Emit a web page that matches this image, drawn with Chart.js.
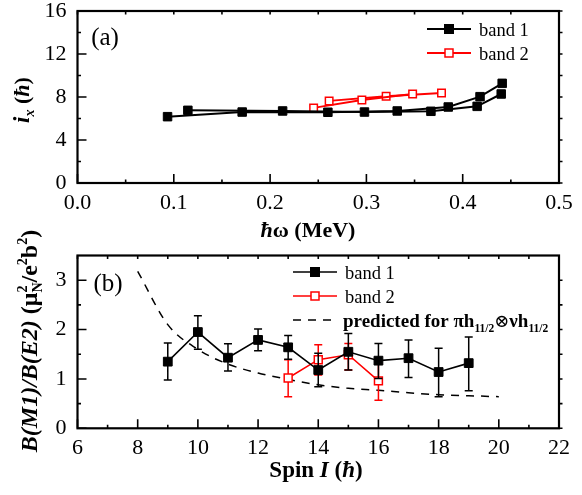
<!DOCTYPE html>
<html>
<head>
<meta charset="utf-8">
<script src="https://cdn.jsdelivr.net/npm/chart.js@4.4.0/dist/chart.umd.min.js"></script>
<style>
  html, body { margin: 0; padding: 0; background: #fff; }
  #wrap { position: relative; width: 582px; height: 495px; overflow: hidden; }
  #ca { position: absolute; left: 0; top: 0; }
  #cb { position: absolute; left: 0; top: 200px; }
</style>
</head>
<body>
<div id="wrap">
  <canvas id="ca" width="582" height="245"></canvas>
  <canvas id="cb" width="582" height="295"></canvas>
</div>
<script>
const SERIF = '"Liberation Serif", "Times New Roman", "DejaVu Serif", serif';

// ---- panel (a): aligned angular momentum i_x versus rotational frequency ----
// band 1, the two signature sequences
const omegaBand1a = [0.0935, 0.171, 0.260, 0.332, 0.385, 0.418, 0.441];
const ixBand1a    = [6.17, 6.60, 6.58, 6.70, 7.07, 8.03, 9.27];
const omegaBand1b = [0.1146, 0.213, 0.298, 0.367, 0.415, 0.440];
const ixBand1b    = [6.76, 6.70, 6.60, 6.67, 7.13, 8.28];
// band 2, the two signature sequences
const omegaBand2a = [0.2452, 0.2953, 0.348];
const ixBand2a    = [6.98, 7.72, 8.28];
const omegaBand2b = [0.2613, 0.3205, 0.378];
const ixBand2b    = [7.63, 8.07, 8.37];

const omegaTicks      = [0, 0.1, 0.2, 0.3, 0.4, 0.5];
const omegaTickLabels = ['0.0', '0.1', '0.2', '0.3', '0.4', '0.5'];
const ixTicks         = [0, 4, 8, 12, 16];
const ixTickLabels    = ['0', '4', '8', '12', '16'];

// ---- panel (b): B(M1)/B(E2) ratios versus spin ----
const spinBand1  = [9, 10, 11, 12, 13, 14, 15, 16, 17, 18, 19];
const ratioBand1 = [1.35, 1.95, 1.43, 1.79, 1.64, 1.18, 1.55, 1.37, 1.42, 1.14, 1.32];
const lowBand1   = [0.98, 1.60, 1.16, 1.57, 1.40, 0.84, 1.18, 1.01, 1.03, 0.64, 0.76];
const highBand1  = [1.73, 2.28, 1.71, 2.01, 1.88, 1.52, 1.92, 1.72, 1.79, 1.62, 1.85];

const spinBand2  = [13, 14, 15, 16];
const ratioBand2 = [1.02, 1.39, 1.49, 0.96];
const lowBand2   = [0.64, 1.08, 1.18, 0.57];
const highBand2  = [1.39, 1.69, 1.72, 1.32];

const spinPred   = [8, 9, 10, 11, 12, 13, 14, 15, 16, 17, 18, 19, 20];
const ratioPred  = [3.18, 2.10, 1.60, 1.30, 1.12, 0.99, 0.88, 0.81, 0.77, 0.72, 0.68, 0.66, 0.64];

const spinTicks      = [6, 8, 10, 12, 14, 16, 18, 20, 22];
const spinTickLabels = ['6', '8', '10', '12', '14', '16', '18', '20', '22'];
const ratioTicks      = [0, 1, 2, 3];
const ratioTickLabels = ['0', '1', '2', '3'];

const pts = (xs, ys) => xs.map((x, i) => ({ x, y: ys[i] }));

// ---- text helpers (sub/superscripts) ----
function richWidth(ctx, segs) {
  let w = 0, pending = 0;
  segs.forEach(s => {
    ctx.font = s.f;
    const m = ctx.measureText(s.t).width;
    if (s.stack) { pending = m; return; }
    w += Math.max(m, pending); pending = 0;
  });
  return w;
}
function drawRich(ctx, segs, x, y, align) {
  const w = richWidth(ctx, segs);
  let cx = align === 'center' ? x - w / 2 : x;
  let pending = 0;
  ctx.textAlign = 'left';
  ctx.textBaseline = 'alphabetic';
  segs.forEach(s => {
    ctx.font = s.f;
    ctx.fillText(s.t, cx, y + (s.dy || 0));
    const m = ctx.measureText(s.t).width;
    if (s.stack) { pending = m; return; }
    cx += Math.max(m, pending); pending = 0;
  });
}
function drawRichRotated(ctx, segs, x, y) {
  ctx.save();
  ctx.translate(x, y);
  ctx.rotate(-Math.PI / 2);
  drawRich(ctx, segs, 0, 0, 'center');
  ctx.restore();
}
const F = (style, size) => `${style} ${size}px ${SERIF}`;

// ---- frame with inward ticks ----
const axesFrame = {
  id: 'axesFrame',
  afterDatasetsDraw(chart) {
    const { ctx, chartArea: a, scales: { x, y } } = chart;
    const major = 9, minor = 3.5;
    const xt = x.ticks.map(t => t.value), yt = y.ticks.map(t => t.value);
    const mids = v => v.slice(1).map((w, i) => (w + v[i]) / 2);
    ctx.save();
    ctx.strokeStyle = '#000';
    ctx.lineWidth = 1.6;
    ctx.beginPath();
    xt.forEach(v => {
      const p = x.getPixelForValue(v);
      ctx.moveTo(p, a.bottom); ctx.lineTo(p, a.bottom - major);
      ctx.moveTo(p, a.top); ctx.lineTo(p, a.top + minor);
    });
    mids(xt).forEach(v => {
      const p = x.getPixelForValue(v);
      ctx.moveTo(p, a.bottom); ctx.lineTo(p, a.bottom - minor);
      ctx.moveTo(p, a.top); ctx.lineTo(p, a.top + minor);
    });
    yt.forEach(v => {
      const p = y.getPixelForValue(v);
      ctx.moveTo(a.left, p); ctx.lineTo(a.left + major, p);
      ctx.moveTo(a.right, p); ctx.lineTo(a.right + minor, p);
    });
    mids(yt).forEach(v => {
      const p = y.getPixelForValue(v);
      ctx.moveTo(a.left, p); ctx.lineTo(a.left + minor, p);
      ctx.moveTo(a.right, p); ctx.lineTo(a.right + minor, p);
    });
    ctx.stroke();
    ctx.lineWidth = 2.2;
    ctx.strokeRect(a.left, a.top, a.right - a.left, a.bottom - a.top);
    ctx.restore();
  }
};

// ---- asymmetric error bars, drawn just before each dataset ----
const errorBars = {
  id: 'errorBars',
  beforeDatasetDraw(chart, args) {
    const ds = chart.data.datasets[args.index];
    if (!ds.errLow) return;
    const { ctx, scales: { x, y } } = chart;
    ctx.save();
    ctx.strokeStyle = ds.borderColor;
    ctx.lineWidth = 1.5;
    ctx.beginPath();
    ds.data.forEach((p, i) => {
      const px = x.getPixelForValue(p.x);
      const lo = y.getPixelForValue(ds.errLow[i]);
      const hi = y.getPixelForValue(ds.errHigh[i]);
      ctx.moveTo(px, lo); ctx.lineTo(px, hi);
      ctx.moveTo(px - 4, lo); ctx.lineTo(px + 4, lo);
      ctx.moveTo(px - 4, hi); ctx.lineTo(px + 4, hi);
    });
    ctx.stroke();
    ctx.restore();
  }
};

// ---- legend rows and titles ----
function legendRow(ctx, x1, x2, y, style, text) {
  ctx.save();
  ctx.strokeStyle = style.color;
  ctx.lineWidth = style.lw;
  ctx.setLineDash(style.dash || []);
  ctx.beginPath(); ctx.moveTo(x1, y); ctx.lineTo(x2, y); ctx.stroke();
  ctx.setLineDash([]);
  if (style.marker) {
    const c = (x1 + x2) / 2, s = style.size;
    ctx.fillStyle = style.fill;
    ctx.fillRect(c - s / 2, y - s / 2, s, s);
    ctx.lineWidth = style.mlw;
    ctx.strokeRect(c - s / 2, y - s / 2, s, s);
  }
  ctx.fillStyle = '#000';
  if (typeof text === 'string') {
    ctx.font = F('', 18.5);
    ctx.textAlign = 'left';
    ctx.textBaseline = 'alphabetic';
    ctx.fillText(text, x2 + 8, y + 6.5);
  } else {
    drawRich(ctx, text, x2 + 6, y + 6.5, 'left');
  }
  ctx.restore();
}

const decorA = {
  id: 'decorA',
  afterDraw(chart) {
    const ctx = chart.ctx;
    ctx.save();
    ctx.fillStyle = '#000';
    ctx.font = F('', 25);
    ctx.textAlign = 'center'; ctx.textBaseline = 'middle';
    ctx.fillText('(a)', 105, 38);
    drawRich(ctx, [
      { t: 'ħ', f: F('bold italic', 22) },
      { t: 'ω (MeV)', f: F('bold', 22) }
    ], 308, 237, 'center');
    drawRichRotated(ctx, [
      { t: 'i', f: F('bold italic', 23) },
      { t: 'x', f: F('bold italic', 14), dy: 5 },
      { t: ' (', f: F('bold', 22) },
      { t: 'ħ', f: F('bold italic', 22) },
      { t: ')', f: F('bold', 22) }
    ], 29, 100);
    legendRow(ctx, 427, 471, 29, { color: '#000', lw: 2, marker: true, size: 9, fill: '#000', mlw: 1 }, 'band 1');
    legendRow(ctx, 427, 471, 53, { color: '#ff0000', lw: 2, marker: true, size: 8, fill: '#fff', mlw: 1.5 }, 'band 2');
    ctx.restore();
  }
};

const decorB = {
  id: 'decorB',
  afterDraw(chart) {
    const ctx = chart.ctx;
    ctx.save();
    ctx.fillStyle = '#000';
    ctx.font = F('', 25);
    ctx.textAlign = 'center'; ctx.textBaseline = 'middle';
    ctx.fillText('(b)', 108, 84);
    drawRich(ctx, [
      { t: 'Spin ', f: F('bold', 23) },
      { t: 'I', f: F('bold italic', 23) },
      { t: ' (', f: F('bold', 23) },
      { t: 'ħ', f: F('bold italic', 23) },
      { t: ')', f: F('bold', 23) }
    ], 316, 277, 'center');
    drawRichRotated(ctx, [
      { t: 'B(M1)/B(E2)', f: F('bold italic', 24) },
      { t: ' (μ', f: F('bold', 24) },
      { t: 'N', f: F('bold', 14), dy: 5, stack: true },
      { t: '2', f: F('bold', 14), dy: -10 },
      { t: '/e', f: F('bold', 24) },
      { t: '2', f: F('bold', 14), dy: -10 },
      { t: 'b', f: F('bold', 24) },
      { t: '2', f: F('bold', 14), dy: -10 },
      { t: ')', f: F('bold', 24) }
    ], 37, 141);
    legendRow(ctx, 293, 337, 72, { color: '#000', lw: 1.6, marker: true, size: 9, fill: '#000', mlw: 1 }, 'band 1');
    legendRow(ctx, 293, 337, 96, { color: '#ff0000', lw: 1.6, marker: true, size: 8, fill: '#fff', mlw: 1.5 }, 'band 2');
    legendRow(ctx, 293, 337, 120, { color: '#000', lw: 1.5, dash: [8, 7] }, [
      { t: 'predicted for πh', f: F('bold', 19) },
      { t: '11/2', f: F('bold', 11.5), dy: 5 },
      { t: '⊗', f: F('', 18) },
      { t: 'νh', f: F('bold', 19) },
      { t: '11/2', f: F('bold', 11.5), dy: 5 }
    ]);
    ctx.restore();
  }
};

function scaleOpts(min, max, ticks, labels, axis, fit, pad) {
  return {
    type: 'linear', min, max,
    afterBuildTicks: s => { s.ticks = ticks.map(v => ({ value: v })); },
    afterFit: s => {
      if (axis === 'x') s.height = fit; else s.width = fit;
      // let the frame sit exactly where the layout padding puts it
      s.paddingTop = 0; s.paddingBottom = 0; s.paddingLeft = 0; s.paddingRight = 0;
    },
    grid: { display: false, drawTicks: false },
    border: { display: false },
    ticks: {
      autoSkip: false, maxRotation: 0, minRotation: 0, padding: pad,
      color: '#000', font: { family: SERIF, size: 22 },
      callback: (v, i) => labels[i]
    }
  };
}

const common = {
  responsive: false, animation: false, devicePixelRatio: 1,
  plugins: { legend: { display: false }, tooltip: { enabled: false } },
  elements: { line: { tension: 0 } }
};

new Chart(document.getElementById('ca'), {
  type: 'line',
  data: {
    datasets: [
      { label: 'band 1', data: pts(omegaBand1a, ixBand1a), borderColor: '#000', backgroundColor: '#000',
        borderWidth: 2, pointStyle: 'rect', pointRadius: 6, pointBorderWidth: 1, order: 0 },
      { label: 'band 1', data: pts(omegaBand1b, ixBand1b), borderColor: '#000', backgroundColor: '#000',
        borderWidth: 2, pointStyle: 'rect', pointRadius: 6, pointBorderWidth: 1, order: 0 },
      { label: 'band 2', data: pts(omegaBand2a, ixBand2a), borderColor: '#ff0000', backgroundColor: '#fff',
        borderWidth: 1.8, pointStyle: 'rect', pointRadius: 5.3, pointBorderWidth: 1.5, order: 1 },
      { label: 'band 2', data: pts(omegaBand2b, ixBand2b), borderColor: '#ff0000', backgroundColor: '#fff',
        borderWidth: 1.8, pointStyle: 'rect', pointRadius: 5.3, pointBorderWidth: 1.5, order: 1 }
    ]
  },
  options: Object.assign({}, common, {
    layout: { padding: { left: 0, right: 23, top: 11, bottom: 0 } },
    scales: {
      x: scaleOpts(0, 0.5, omegaTicks, omegaTickLabels, 'x', 62, 7),
      y: scaleOpts(0, 16, ixTicks, ixTickLabels, 'y', 77.5, 11)
    }
  }),
  plugins: [errorBars, axesFrame, decorA]
});

new Chart(document.getElementById('cb'), {
  type: 'line',
  data: {
    datasets: [
      { label: 'band 1', data: pts(spinBand1, ratioBand1), errLow: lowBand1, errHigh: highBand1,
        borderColor: '#000', backgroundColor: '#000', borderWidth: 1.6,
        pointStyle: 'rect', pointRadius: 6.2, pointBorderWidth: 1, order: 0 },
      { label: 'band 2', data: pts(spinBand2, ratioBand2), errLow: lowBand2, errHigh: highBand2,
        borderColor: '#ff0000', backgroundColor: '#fff', borderWidth: 1.6,
        pointStyle: 'rect', pointRadius: 5.6, pointBorderWidth: 1.5, order: 1 },
      { label: 'predicted', data: pts(spinPred, ratioPred), borderColor: '#000', borderWidth: 1.5,
        borderDash: [8, 7], pointRadius: 0, cubicInterpolationMode: 'monotone', order: 2 }
    ]
  },
  options: Object.assign({}, common, {
    layout: { padding: { left: 0, right: 23, top: 55.5, bottom: 0 } },
    scales: {
      x: scaleOpts(6, 22, spinTicks, spinTickLabels, 'x', 66.7, 7),
      y: scaleOpts(0, 3.5, ratioTicks, ratioTickLabels, 'y', 77.5, 11)
    }
  }),
  plugins: [errorBars, axesFrame, decorB]
});
</script>
</body>
</html>
